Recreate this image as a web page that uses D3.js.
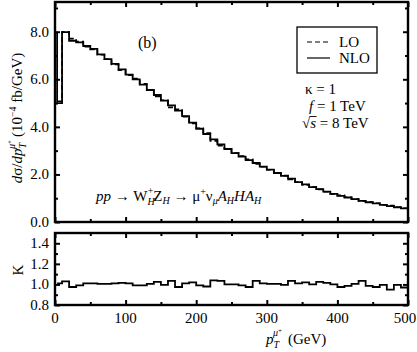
<!DOCTYPE html>
<html>
<head>
<meta charset="utf-8">
<script src="https://cdn.jsdelivr.net/npm/d3@7"></script>
<style>
  body { margin: 0; background: #fff; }
  svg { display: block; }
  text { font-family: "Liberation Serif", "DejaVu Serif", serif; fill: #000; }
</style>
</head>
<body>
<div id="chart"></div>
<script>
// bin edges in GeV (first bin starts a bit above 0)
const binEdges = [3].concat(d3.range(10, 510, 10));

const nloValues = [5.00, 7.98, 7.62, 7.55, 7.40, 7.28, 7.05, 6.85, 6.65, 6.42,
  6.20, 6.00, 5.78, 5.55, 5.34, 5.10, 4.90, 4.68, 4.45, 4.18,
  3.92, 3.70, 3.47, 3.26, 3.07, 2.90, 2.75, 2.60, 2.48, 2.33,
  2.20, 2.06, 1.94, 1.82, 1.68, 1.58, 1.47, 1.38, 1.28, 1.18,
  1.10, 1.03, 0.96, 0.89, 0.83, 0.78, 0.72, 0.67, 0.62, 0.57];

const loValues = [5.08, 8.00, 7.71, 7.59, 7.37, 7.25, 7.03, 6.84, 6.62, 6.38,
  6.17, 6.03, 5.81, 5.54, 5.28, 5.12, 4.82, 4.74, 4.43, 4.14,
  3.94, 3.74, 3.41, 3.21, 3.07, 2.90, 2.77, 2.64, 2.44, 2.32,
  2.20, 2.06, 1.95, 1.79, 1.67, 1.56, 1.47, 1.37, 1.27, 1.18,
  1.12, 1.04, 0.96, 0.88, 0.84, 0.79, 0.72, 0.69, 0.62, 0.58];

const kValues = [1.01, 1.03, 0.975, 0.99, 1.01, 1.01, 1.005, 1.005, 1.01, 1.015,
  1.01, 0.99, 0.99, 1.005, 1.025, 0.995, 1.035, 0.975, 1.01, 1.02,
  0.99, 0.98, 1.04, 1.035, 1.0, 1.0, 0.99, 0.975, 1.035, 1.01,
  1.005, 1.005, 0.995, 1.035, 1.01, 1.02, 1.0, 1.025, 1.015, 1.0,
  0.975, 0.985, 1.005, 1.035, 0.985, 0.975, 0.995, 0.95, 0.995, 0.97];

const xTicks = [0, 100, 200, 300, 400, 500];
const xMinorTicks = [50, 150, 250, 350, 450];
const yTicks = [0, 2, 4, 6, 8];
const yMinorTicks = [1, 3, 5, 7, 9];
const kTicks = [0.8, 1.0, 1.2, 1.4];
const kMinorTicks = [0.9, 1.1, 1.3];

const width = 417, height = 352;
const svg = d3.select("#chart").append("svg")
    .attr("width", width).attr("height", height);

const x = d3.scaleLinear().domain([0, 500]).range([55, 408]);
const y = d3.scaleLinear().domain([0, 9.25]).range([222, 2]);
const yk = d3.scaleLinear().domain([0.8, 1.5]).range([305, 233]);

function stepPath(vals, scale, startVal) {
    const p = d3.path();
    p.moveTo(x(binEdges[0]), scale(startVal != null ? startVal : vals[0]));
    vals.forEach((v, i) => {
        p.lineTo(x(binEdges[i]), scale(v));
        p.lineTo(x(binEdges[i + 1]), scale(v));
    });
    return p.toString();
}

function ticksOn(g, axisFn, scale, vals, size) {
    g.call(axisFn(scale).tickValues(vals).tickSizeInner(size).tickSizeOuter(0).tickFormat(""))
        .call(s => s.select(".domain").remove())
        .call(s => s.selectAll("line").attr("stroke", "#000").attr("stroke-width", 2));
}

function panelFrame(yScale, yMaj, yMin) {
    const [y0, y1] = yScale.range();
    ticksOn(svg.append("g").attr("transform", `translate(0,${y0})`), d3.axisBottom, x, xTicks, -5);
    ticksOn(svg.append("g").attr("transform", `translate(0,${y0})`), d3.axisBottom, x, xMinorTicks, -3);
    ticksOn(svg.append("g").attr("transform", `translate(0,${y1})`), d3.axisTop, x, xTicks, -5);
    ticksOn(svg.append("g").attr("transform", `translate(0,${y1})`), d3.axisTop, x, xMinorTicks, -3);
    ticksOn(svg.append("g").attr("transform", `translate(${x(0)},0)`), d3.axisLeft, yScale, yMaj, -5);
    ticksOn(svg.append("g").attr("transform", `translate(${x(0)},0)`), d3.axisLeft, yScale, yMin, -3);
    ticksOn(svg.append("g").attr("transform", `translate(${x(500)},0)`), d3.axisRight, yScale, yMaj, -5);
    ticksOn(svg.append("g").attr("transform", `translate(${x(500)},0)`), d3.axisRight, yScale, yMin, -3);
    svg.append("rect")
        .attr("x", x(0)).attr("y", y1)
        .attr("width", x(500) - x(0)).attr("height", y0 - y1)
        .attr("fill", "none").attr("stroke", "#000").attr("stroke-width", 2.4);
}

// curves
svg.append("path").attr("d", stepPath(loValues, y))
    .attr("fill", "none").attr("stroke", "#000").attr("stroke-width", 1.6)
    .attr("stroke-dasharray", "5,3");
svg.append("path").attr("d", stepPath(nloValues, y, loValues[1]))
    .attr("fill", "none").attr("stroke", "#000").attr("stroke-width", 1.8);
svg.append("path").attr("d", stepPath(kValues, yk))
    .attr("fill", "none").attr("stroke", "#000").attr("stroke-width", 1.8);

panelFrame(y, yTicks, yMinorTicks);
panelFrame(yk, kTicks, kMinorTicks);

// tick labels
const fmt = d3.format(".1f");
svg.append("g").selectAll("text").data(yTicks).join("text")
    .attr("x", 49).attr("y", d => y(d) + 5)
    .attr("text-anchor", "end").attr("font-size", 15).text(d => fmt(d));
svg.append("g").selectAll("text").data(kTicks).join("text")
    .attr("x", 49).attr("y", d => yk(d) + 5)
    .attr("text-anchor", "end").attr("font-size", 15).text(d => fmt(d));
svg.append("g").selectAll("text").data(xTicks).join("text")
    .attr("x", d => Math.min(x(d), width - 12)).attr("y", 323)
    .attr("text-anchor", "middle").attr("font-size", 15).text(d => d);

// axis titles
const yTitle = svg.append("text")
    .attr("transform", "translate(22,118) rotate(-90)")
    .attr("text-anchor", "middle").attr("font-size", 15);
yTitle.append("tspan").attr("font-style", "italic").text("d");
yTitle.append("tspan").text("σ/");
yTitle.append("tspan").attr("font-style", "italic").text("dp");
yTitle.append("tspan").attr("font-style", "italic").attr("font-size", 10).attr("dy", 4).text("T");
yTitle.append("tspan").attr("font-style", "italic").attr("font-size", 10).attr("dx", -6).attr("dy", -11).text("μ");
yTitle.append("tspan").attr("font-size", 7).attr("dy", -3).text("+");
yTitle.append("tspan").attr("dy", 10).attr("dx", 3).text("(10");
yTitle.append("tspan").attr("font-size", 10).attr("dy", -6).text("−4");
yTitle.append("tspan").attr("dy", 6).text(" fb/GeV)");

svg.append("text")
    .attr("transform", "translate(23,270) rotate(-90)")
    .attr("text-anchor", "middle").attr("font-size", 15).text("K");

const xTitle = svg.append("text").attr("x", 266).attr("y", 344).attr("font-size", 15);
xTitle.append("tspan").attr("font-style", "italic").text("p");
xTitle.append("tspan").attr("font-style", "italic").attr("font-size", 10).attr("dy", 4).text("T");
xTitle.append("tspan").attr("font-style", "italic").attr("font-size", 10).attr("dx", -6).attr("dy", -12).text("μ");
xTitle.append("tspan").attr("font-size", 7).attr("dy", -3).text("+");
xTitle.append("tspan").attr("dy", 11).attr("dx", 6).text("(GeV)");

// panel annotations
svg.append("text").attr("x", 138).attr("y", 48).attr("font-size", 16).text("(b)");

const legend = svg.append("g");
legend.append("rect").attr("x", 297).attr("y", 27).attr("width", 80).attr("height", 46)
    .attr("fill", "#fff").attr("stroke", "#000").attr("stroke-width", 1.3);
legend.append("line").attr("x1", 307).attr("x2", 330).attr("y1", 42).attr("y2", 42)
    .attr("stroke", "#000").attr("stroke-width", 1.2).attr("stroke-dasharray", "5,3");
legend.append("line").attr("x1", 307).attr("x2", 330).attr("y1", 58).attr("y2", 58)
    .attr("stroke", "#000").attr("stroke-width", 1.2);
legend.append("text").attr("x", 339).attr("y", 47).attr("font-size", 15).text("LO");
legend.append("text").attr("x", 339).attr("y", 63).attr("font-size", 15).text("NLO");

svg.append("text").attr("x", 305).attr("y", 94).attr("font-size", 15).text("κ = 1");
const fText = svg.append("text").attr("x", 309).attr("y", 111).attr("font-size", 15);
fText.append("tspan").attr("font-style", "italic").text("f");
fText.append("tspan").text(" = 1 TeV");
const sText = svg.append("text").attr("x", 302).attr("y", 128).attr("font-size", 15);
sText.append("tspan").text("√");
sText.append("tspan").attr("font-style", "italic").text("s");
sText.append("tspan").text(" = 8 TeV");
// radical bar over s
const rootW = sText.node().getSubStringLength(0, 1);
const sW = sText.node().getSubStringLength(1, 1);
svg.append("line")
    .attr("x1", 302 + rootW - 0.5).attr("x2", 302 + rootW + sW + 0.5)
    .attr("y1", 116.5).attr("y2", 116.5)
    .attr("stroke", "#000").attr("stroke-width", 0.9);

const proc = svg.append("text").attr("x", 96).attr("y", 201).attr("font-size", 15);
proc.append("tspan").attr("font-style", "italic").text("pp");
proc.append("tspan").text(" → W");
proc.append("tspan").attr("font-style", "italic").attr("font-size", 10).attr("dy", 4).text("H");
proc.append("tspan").attr("font-size", 10).attr("dx", -7).attr("dy", -11).text("+");
proc.append("tspan").attr("dy", 7).text("Z");
proc.append("tspan").attr("font-style", "italic").attr("font-size", 10).attr("dy", 3).text("H");
proc.append("tspan").attr("dy", -3).text(" → μ");
proc.append("tspan").attr("font-size", 10).attr("dy", -6).text("+");
proc.append("tspan").attr("dy", 6).text("ν");
proc.append("tspan").attr("font-style", "italic").attr("font-size", 10).attr("dy", 3).text("μ");
proc.append("tspan").attr("font-style", "italic").attr("dy", -3).text("A");
proc.append("tspan").attr("font-style", "italic").attr("font-size", 10).attr("dy", 3).text("H");
proc.append("tspan").attr("font-style", "italic").attr("dy", -3).text("HA");
proc.append("tspan").attr("font-style", "italic").attr("font-size", 10).attr("dy", 3).text("H");
</script>
</body>
</html>
